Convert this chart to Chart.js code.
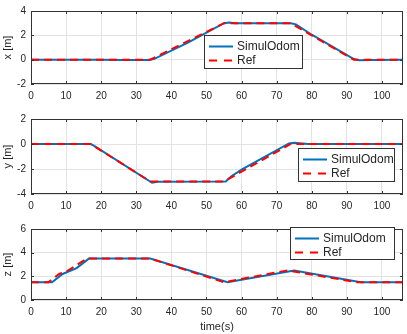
<!DOCTYPE html>
<html>
<head>
<meta charset="utf-8">
<script src="https://cdn.jsdelivr.net/npm/chart.js@4.4.1/dist/chart.umd.min.js"></script>
<style>
  body { margin: 0; background: #fff; }
  #wrap { position: relative; width: 407px; height: 334px; }
  .pane { position: absolute; left: 0; width: 407px; }
</style>
</head>
<body>
<div id="wrap">
  <div class="pane" style="top:0;height:104px"><canvas id="cx"></canvas></div>
  <div class="pane" style="top:108px;height:106px"><canvas id="cy"></canvas></div>
  <div class="pane" style="top:218px;height:116px"><canvas id="cz"></canvas></div>
</div>
<script>
// time axis
var xTicks = [0, 10, 20, 30, 40, 50, 60, 70, 80, 90, 100];
var legendLabels = ['SimulOdom', 'Ref'];

// x [m]
var xRefT  = [0, 34, 55, 74, 92, 106];
var xRefV  = [0, 0, 3, 3, 0, 0];
var xOdomT = [0, 20, 26, 33.5, 35, 45, 55, 56.5, 58, 74, 75.5, 80, 92, 93.5, 97, 106];
var xOdomV = [0, 0, -0.03, -0.03, 0.05, 1.45, 3.0, 3.06, 3.0, 3.0, 2.9, 2.05, 0.05, -0.05, -0.02, 0];

// y [m]
var yRefT  = [0, 17, 34, 55, 74, 106];
var yRefV  = [0, 0, -3, -3, 0, 0];
var yOdomT = [0, 17, 18, 34.5, 36, 55.5, 57, 60, 73.5, 75, 79, 106];
var yOdomV = [0, 0, -0.15, -3.1, -3.02, -3.0, -2.6, -2.05, 0.05, 0.1, 0, 0];

// z [m]
var zRefT  = [0, 5, 8, 10, 16, 34, 55, 73, 93, 106];
var zRefV  = [1.5, 1.5, 2.2, 2.4, 3.5, 3.5, 1.5, 2.5, 1.5, 1.5];
var zOdomT = [0, 6, 9, 13, 16.5, 34, 56, 75, 94, 106];
var zOdomV = [1.5, 1.5, 2.2, 2.7, 3.5, 3.5, 1.5, 2.5, 1.5, 1.5];

function pts(t, v) {
  return t.map(function (ti, i) { return { x: ti, y: v[i] }; });
}

// box round the axes, inner ticks and the legend box
var boxPlugin = {
  id: 'boxPlugin',
  afterDraw: function (chart, args, opts) {
    var ctx = chart.ctx, a = chart.chartArea;
    ctx.save();
    ctx.strokeStyle = '#333';
    ctx.lineWidth = 1;
    ctx.strokeRect(a.left + 0.5, a.top + 0.5, a.right - a.left - 1, a.bottom - a.top - 1);
    // inner tick marks
    var sx = chart.scales.x, sy = chart.scales.y;
    ctx.beginPath();
    sx.ticks.forEach(function (t) {
      var p = Math.round(sx.getPixelForValue(t.value)) + 0.5;
      ctx.moveTo(p, a.bottom); ctx.lineTo(p, a.bottom - 3);
      ctx.moveTo(p, a.top); ctx.lineTo(p, a.top + 3);
    });
    sy.ticks.forEach(function (t) {
      var p = Math.round(sy.getPixelForValue(t.value)) + 0.5;
      ctx.moveTo(a.left, p); ctx.lineTo(a.left + 3, p);
      ctx.moveTo(a.right, p); ctx.lineTo(a.right - 3, p);
    });
    ctx.stroke();

    // legend
    var L = opts.box;
    ctx.fillStyle = '#fff';
    ctx.fillRect(L[0], L[1], L[2] - L[0], L[3] - L[1]);
    ctx.strokeStyle = '#333';
    ctx.strokeRect(L[0] + 0.5, L[1] + 0.5, L[2] - L[0] - 1, L[3] - L[1] - 1);
    var rows = [
      { y: L[1] + 11.5, color: '#0072BD', dash: [] },
      { y: L[1] + 25.5, color: '#FF0000', dash: [8, 7] }
    ];
    ctx.font = '12px "Liberation Sans", Arial, sans-serif';
    ctx.textBaseline = 'middle';
    rows.forEach(function (r, i) {
      ctx.beginPath();
      ctx.setLineDash(r.dash);
      ctx.strokeStyle = r.color;
      ctx.lineWidth = 2;
      ctx.moveTo(L[0] + 5, r.y);
      ctx.lineTo(L[0] + 29, r.y);
      ctx.stroke();
      ctx.setLineDash([]);
      ctx.fillStyle = '#262626';
      ctx.fillText(legendLabels[i], L[0] + 33, r.y + 0.5);
    });
    ctx.restore();
  }
};

function makeChart(id, odom, ref, yMin, yMax, yLabel, legendBox, xAxisH, showTitle) {
  return new Chart(document.getElementById(id), {
    type: 'line',
    data: {
      datasets: [
        { label: legendLabels[0], data: odom, borderColor: '#0072BD', borderWidth: 2, order: 2 },
        { label: legendLabels[1], data: ref, borderColor: '#FF0000', borderWidth: 2, borderDash: [8, 5], order: 1 }
      ]
    },
    options: {
      responsive: true,
      maintainAspectRatio: false,
      animation: false,
      parsing: false,
      elements: { point: { radius: 0 }, line: { tension: 0 } },
      layout: { padding: { top: 6, right: 4, left: 0, bottom: 0 } },
      plugins: { legend: { display: false }, tooltip: { enabled: false }, boxPlugin: { box: legendBox } },
      scales: {
        x: {
          type: 'linear', min: 0, max: 106,
          afterBuildTicks: function (s) { s.ticks = xTicks.map(function (v) { return { value: v }; }); },
          afterFit: function (s) { s.height = xAxisH; },
          grid: { color: '#e3e3e3', drawTicks: false },
          border: { display: false },
          ticks: { padding: 6, color: '#262626', font: { size: 10, family: 'Liberation Sans' }, maxRotation: 0 },
          title: { display: showTitle, text: 'time(s)', color: '#262626', font: { size: 11, family: 'Liberation Sans' }, padding: { top: 2, bottom: 0 } }
        },
        y: {
          min: yMin, max: yMax,
          afterFit: function (s) { s.width = 31; },
          grid: { color: '#e3e3e3', drawTicks: false },
          border: { display: false },
          ticks: { stepSize: 2, padding: 5, color: '#262626', font: { size: 10, family: 'Liberation Sans' } },
          title: { display: true, text: yLabel, color: '#262626', font: { size: 11, family: 'Liberation Sans' }, padding: { top: 1, bottom: 0 } }
        }
      }
    },
    plugins: [boxPlugin]
  });
}

makeChart('cx', pts(xOdomT, xOdomV), pts(xRefT, xRefV), -2, 4, 'x [m]', [204, 35, 303, 69], 20, false);
makeChart('cy', pts(yOdomT, yOdomV), pts(yRefT, yRefV), -4, 2, 'y [m]', [298, 40, 395, 74], 20, false);
makeChart('cz', pts(zOdomT, zOdomV), pts(zRefT, zRefV), 0, 6, 'z [m]', [290, 9, 395, 42], 34, true);
</script>
</body>
</html>
